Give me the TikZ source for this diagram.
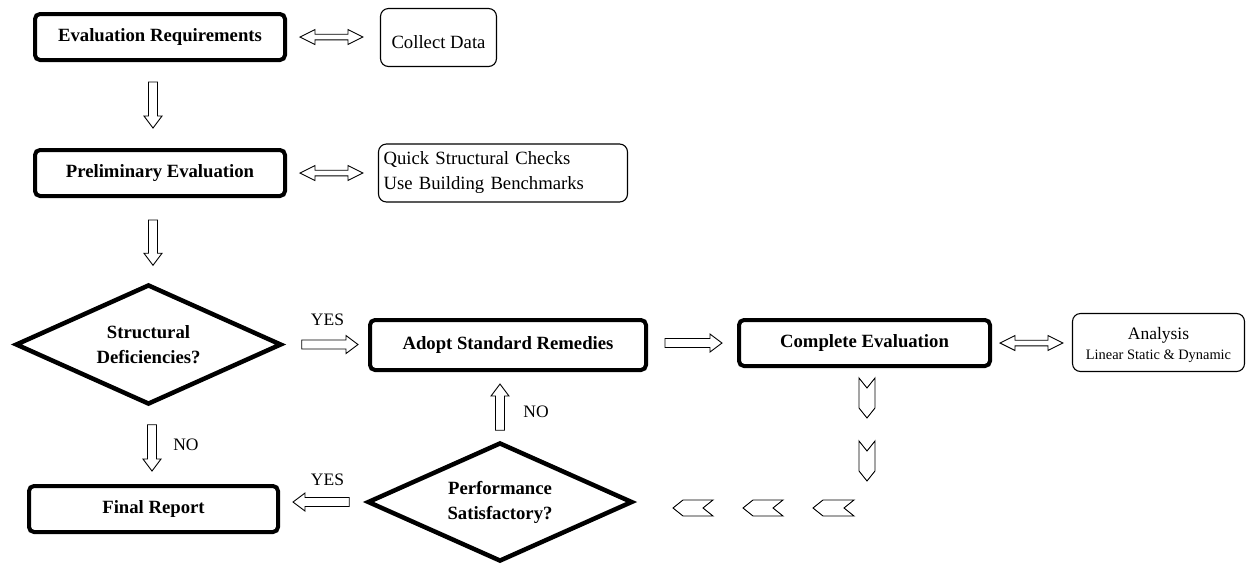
\documentclass[tikz,border=0pt]{standalone}
\usepackage{fontspec}
\setmainfont{Liberation Serif}
\usetikzlibrary{shapes.geometric,calc}

\begin{document}
\begin{tikzpicture}[x=1pt,y=-1pt,
  mainbox/.style={draw,rounded corners=5pt,line width=4pt,minimum width=250pt,minimum height=46pt,font=\bfseries\fontsize{18.7}{22}\selectfont},
  infobox/.style={draw,rounded corners=8pt,line width=1.1pt,minimum height=58pt,font=\fontsize{18.7}{25}\selectfont},
  decision/.style={draw,diamond,aspect=2.2,line width=4.5pt,minimum width=266pt,minimum height=120pt,inner sep=0pt,align=center,font=\bfseries\fontsize{18.7}{25}\selectfont},
  answer/.style={font=\fontsize{17.5}{20}\selectfont},
  chevron/.style={draw,line width=0.9pt},
  fatarrow/.style={draw,line width=0.9pt,to path={let \p1=(\tikztostart),\p2=(\tikztotarget),\p3=($(\p2)!12pt!(\p1)$) in
    ($(\p1)!4.5pt!90:(\p2)$) -- ($(\p3)!4.5pt!90:(\p2)$) -- ($(\p3)!9pt!90:(\p2)$) -- (\p2)
    -- ($(\p3)!9pt!-90:(\p2)$) -- ($(\p3)!4.5pt!-90:(\p2)$) -- ($(\p1)!4.5pt!-90:(\p2)$) -- cycle}},
  fatdbl/.style={draw,line width=0.9pt,to path={let \p1=(\tikztostart),\p2=(\tikztotarget),\p3=($(\p1)!15pt!(\p2)$),\p4=($(\p2)!15pt!(\p1)$) in
    (\p1) -- ($(\p3)!7.5pt!90:(\p2)$) -- ($(\p3)!2.8pt!90:(\p2)$) -- ($(\p4)!2.8pt!90:(\p2)$) -- ($(\p4)!7.5pt!90:(\p2)$) -- (\p2)
    -- ($(\p4)!7.5pt!-90:(\p2)$) -- ($(\p4)!2.8pt!-90:(\p2)$) -- ($(\p3)!2.8pt!-90:(\p2)$) -- ($(\p3)!7.5pt!-90:(\p2)$) -- cycle}}]
\useasboundingbox (0,0) rectangle (1250,566);
\node[mainbox] (req) at (160,37) {Evaluation Requirements};
\node[infobox,minimum width=116pt,text height=24pt,text depth=2pt] (data) at (438.5,37.5) {Collect Data};
\draw[fatdbl] ([xshift=13pt]req.east) to ([xshift=-17pt]data.west |- req.east);
\node[mainbox] (prelim) at (160,173) {Preliminary Evaluation};
\draw[fatarrow] ([xshift=-7pt,yshift=-20pt]req.south) to ([xshift=-7pt,yshift=20pt]prelim.north);
\node[infobox,minimum width=249pt,text width=239pt,inner xsep=5pt,align=left] (quick) at (503,173) {Quick Structural Checks\\Use Building Benchmarks};
\draw[fatdbl] ([xshift=13pt]prelim.east) to ([xshift=-15pt]quick.west |- prelim.east);
\node[decision] (struct) at (148.5,344.5) {Structural\\Deficiencies?};
\draw[fatarrow] ([xshift=-7pt,yshift=-22pt]prelim.south) to ([xshift=-7pt,yshift=17pt]struct.north -| prelim.south);
\node[mainbox,minimum width=276pt,minimum height=50pt] (adopt) at (508,345) {Adopt Standard Remedies};
\node[answer] (yes1) at (327.5,320) {YES};
\draw[fatarrow] ([xshift=18pt]struct.east) to ([xshift=-10pt]adopt.west |- struct.east);
\node[mainbox,minimum width=251pt] (complete) at (864.5,343) {Complete Evaluation};
\draw[fatarrow] ([xshift=17pt]adopt.east |- complete.west) to ([xshift=-15pt]complete.west);
\node[infobox,minimum width=172pt,align=center,text height=38pt,font=\fontsize{17.5}{20}\selectfont] (analysis) at (1158.5,342.5) {Analysis\\{\fontsize{14.4}{17}\selectfont Linear Static \& Dynamic}};
\draw[fatdbl] ([xshift=8pt]complete.east) to ([xshift=-9pt]analysis.west |- complete.east);
\node[mainbox,minimum width=249pt] (final) at (153.5,509) {Final Report};
\draw[fatarrow] ([xshift=3.5pt,yshift=-18pt]struct.south) to ([xshift=3.5pt,yshift=13pt]final.north -| struct.south);
\node[answer] (no1) at (186,445) {NO};
\node[decision,minimum width=265pt,minimum height=119pt] (perf) at (500,502) {Performance\\Satisfactory?};
\draw[fatarrow] ([yshift=10pt]perf.north) to ([yshift=-12pt]adopt.south -| perf.north);
\node[answer] (no2) at (536,412) {NO};
\draw[fatarrow] ([xshift=-16pt]perf.west) to ([xshift=13pt]final.east |- perf.west);
\node[answer] (yes2) at (327.5,480) {YES};
\draw[chevron] (859,378) -- (867,388) -- (875,378) -- (875,408) -- (867,418) -- (859,408) -- cycle;
\draw[chevron] (859,441) -- (867,451) -- (875,441) -- (875,471) -- (867,481) -- (859,471) -- cycle;
\draw[chevron] (813,508) -- (823,500) -- (854,500) -- (844,508) -- (854,516) -- (823,516) -- cycle;
\draw[chevron] (743,508) -- (753,500) -- (783,500) -- (773,508) -- (783,516) -- (753,516) -- cycle;
\draw[chevron] (673,508) -- (683,500) -- (713,500) -- (703,508) -- (713,516) -- (683,516) -- cycle;
\end{tikzpicture}
\end{document}
